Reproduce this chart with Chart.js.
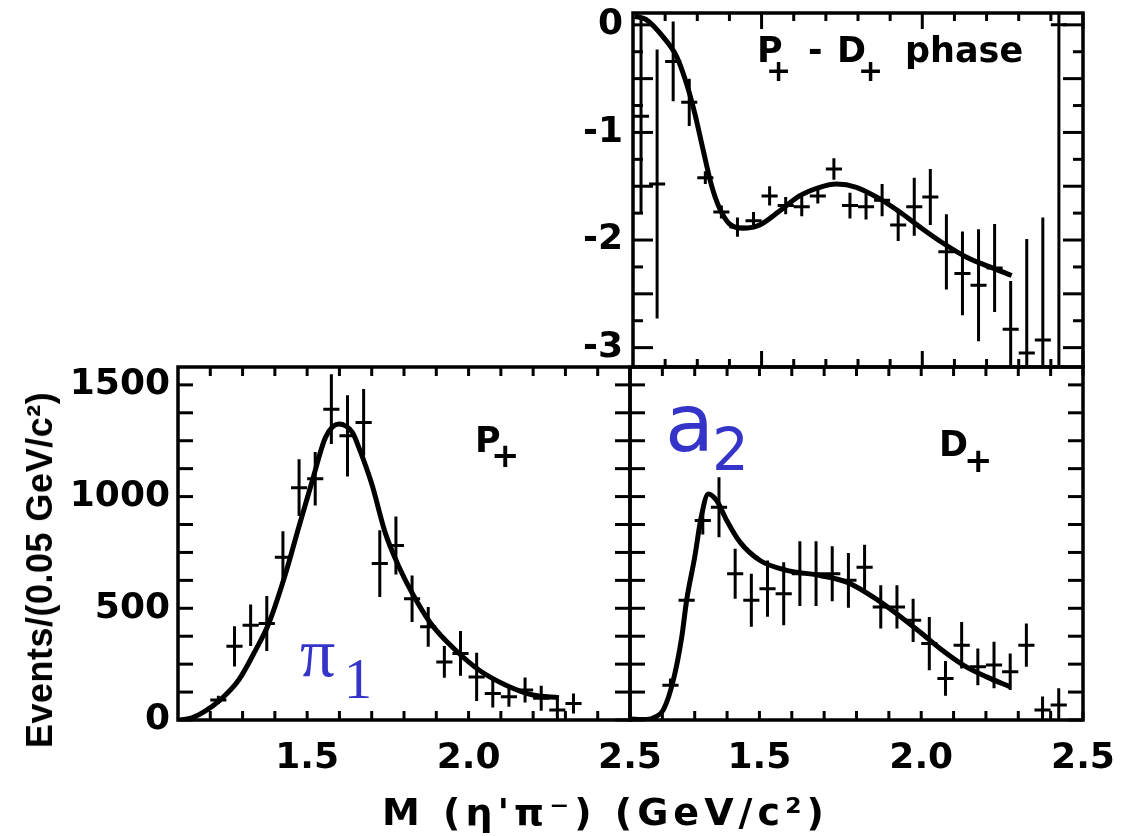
<!DOCTYPE html>
<html>
<head>
<meta charset="utf-8">
<script src="https://cdn.jsdelivr.net/npm/chart.js@4.4.1/dist/chart.umd.min.js"></script>
<style>
html,body{margin:0;padding:0;background:#fff;}
body{width:1126px;height:836px;position:relative;overflow:hidden;}
canvas{position:absolute;}
.t{position:absolute;white-space:nowrap;line-height:1;color:#000;font-family:'DejaVu Sans';font-weight:bold;}
.blue{color:#3434c8;font-weight:normal;}
</style>
</head>
<body>
<canvas id="cP" width="690" height="496" style="left:0;top:340px"></canvas>
<canvas id="cD" width="566" height="496" style="left:560px;top:340px"></canvas>
<canvas id="cPh" width="566" height="380" style="left:560px;top:0"></canvas>

<!-- panel labels -->
<div class="t" style="left:475px;top:423px;font-size:35px">P</div>
<div class="t" style="left:491px;top:438px;font-size:34px">+</div>
<div class="t" style="left:939px;top:427px;font-size:35px">D</div>
<div class="t" style="left:964px;top:443px;font-size:34px">+</div>
<div class="t" style="left:757px;top:33px;font-size:35px">P</div>
<div class="t" style="left:766px;top:56px;font-size:30px">+</div>
<div class="t" style="left:808px;top:33px;font-size:35px">-</div>
<div class="t" style="left:837px;top:33px;font-size:35px">D</div>
<div class="t" style="left:858px;top:56px;font-size:30px">+</div>
<div class="t" style="left:905px;top:33px;font-size:35px">phase</div>

<!-- annotations -->
<div class="t blue" style="left:300px;top:618px;font-size:70px;font-family:'Liberation Serif'">π</div>
<div class="t blue" style="left:344px;top:651px;font-size:56px;font-family:'Liberation Serif'">1</div>
<div class="t blue" style="left:665px;top:384px;font-size:80px;font-family:'DejaVu Sans'">a</div>
<div class="t blue" style="left:712px;top:421px;font-size:58px;font-family:'DejaVu Sans'">2</div>

<!-- axis titles -->
<div class="t" style="left:382px;top:793px;font-size:38px;letter-spacing:5px">M (η'π⁻) (GeV/c²)</div>
<div class="t" style="left:40px;top:570px;font-size:36px;font-family:'Liberation Sans';transform:translate(-50%,-50%) rotate(-90deg);letter-spacing:0.5px">Events/(0.05 GeV/c²)</div>

<script>
// ---------------- data ----------------
// P+ intensity (events per 0.05 GeV/c^2)
const pMass = [1.225,1.275,1.325,1.375,1.425,1.475,1.525,1.575,1.625,1.675,1.725,1.775,1.825,1.875,1.925,1.975,2.025,2.075,2.125,2.175,2.225,2.275,2.325];
const pEvents = [90,330,424,432,729,1040,1080,1391,1272,1332,700,781,543,417,260,298,193,119,104,134,97,45,74];
const pError = [18,90,93,123,116,127,120,156,182,149,149,130,104,89,71,100,108,63,45,56,56,48,45];
const pFitMass = [1.106,1.143,1.184,1.23,1.288,1.34,1.381,1.433,1.474,1.516,1.557,1.598,1.64,1.66,1.70,1.743,1.785,1.826,1.883,1.96,2.033,2.116,2.199,2.28];
const pFitEvents = [0,10,40,89,179,312,432,655,863,1071,1265,1325,1287,1220,1057,833,684,566,432,312,223,156,112,100];

// D+ intensity
const dMass = [1.225,1.275,1.325,1.375,1.425,1.475,1.525,1.575,1.625,1.675,1.725,1.775,1.825,1.875,1.925,1.975,2.025,2.075,2.125,2.175,2.225,2.275,2.325,2.375,2.425];
const dEvents = [156,536,893,952,655,536,588,565,655,655,655,625,684,506,506,446,342,186,335,238,246,216,335,45,67];
const dError = [30,30,63,134,112,119,126,141,145,145,123,123,100,97,97,97,119,78,104,82,104,82,97,60,75];
const dFitMass = [1.10,1.15,1.18,1.203,1.234,1.26,1.275,1.30,1.32,1.342,1.368,1.399,1.44,1.502,1.584,1.687,1.77,1.852,1.924,1.996,2.058,2.13,2.202,2.274];
const dFitEvents = [5,2,15,45,179,372,536,729,908,1012,982,893,796,714,670,647,617,550,476,394,320,246,193,149];

// P+ - D+ phase (rad)
const phMass = [1.125,1.175,1.225,1.275,1.325,1.375,1.425,1.475,1.525,1.575,1.625,1.675,1.725,1.775,1.825,1.875,1.925,1.975,2.025,2.075,2.125,2.175,2.225,2.275,2.325,2.375,2.425];
const phPhase = [-0.85,-1.48,-0.34,-0.72,-1.42,-1.74,-1.88,-1.82,-1.59,-1.68,-1.69,-1.59,-1.34,-1.68,-1.69,-1.63,-1.86,-1.69,-1.60,-2.11,-2.31,-2.42,-2.26,-2.83,-3.05,-2.93,0.0];
const phError = [0.9,1.25,0.37,0.22,0.06,0.06,0.09,0.08,0.09,0.08,0.09,0.07,0.1,0.12,0.12,0.15,0.15,0.27,0.26,0.35,0.39,0.52,0.41,0.45,1.06,1.14,3.4];
const phFitMass = [1.105,1.14,1.193,1.235,1.266,1.292,1.318,1.344,1.37,1.40,1.442,1.494,1.556,1.618,1.681,1.733,1.795,1.869,1.93,1.993,2.065,2.138,2.21,2.278];
const phFitPhase = [0.08,0.05,-0.11,-0.29,-0.54,-0.82,-1.16,-1.49,-1.71,-1.85,-1.89,-1.86,-1.73,-1.59,-1.51,-1.48,-1.51,-1.62,-1.74,-1.88,-2.03,-2.16,-2.25,-2.33];

// tick values / labels
const massTickValues = [1.5, 2.0, 2.5];
const massTickLabels = ['1.5', '2.0', '2.5'];
const massMinorTicks = [1.2,1.3,1.4,1.6,1.7,1.8,1.9,2.1,2.2,2.3,2.4];
const countTickValues = [0, 500, 1000, 1500];
const countTickLabels = ['0', '500', '1000', '1500'];
const countMinorTicks = [125,250,375,625,750,875,1125,1250,1375];
const phaseTickValues = [0, -1, -2, -3];
const phaseTickLabels = ['0', '-1', '-2', '-3'];
const phaseHalfTicks = [-0.5,-1.5,-2.5];
const phaseMinorTicks = [-0.25,-0.75,-1.25,-1.75,-2.25,-2.75];
const binHalfWidth = 0.025;

// ---------------- helpers ----------------
function verticalBars(xs, ys, es) {
  const out = [];
  xs.forEach((x, i) => { out.push({x, y: ys[i] - es[i]}, {x, y: ys[i] + es[i]}, {x, y: null}); });
  return out;
}
function horizontalBars(xs, ys) {
  const out = [];
  xs.forEach((x, i) => { out.push({x: x - binHalfWidth, y: ys[i]}, {x: x + binHalfWidth, y: ys[i]}, {x, y: null}); });
  return out;
}
function curve(xs, ys) { return xs.map((x, i) => ({x, y: ys[i]})); }

function datasets(xs, ys, es, fx, fy) {
  const seg = {showLine: true, pointRadius: 0, borderColor: '#000', borderWidth: 3, tension: 0, spanGaps: false, fill: false};
  return [
    Object.assign({data: verticalBars(xs, ys, es)}, seg),
    Object.assign({data: horizontalBars(xs, ys)}, seg),
    {data: curve(fx, fy), showLine: true, pointRadius: 0, borderColor: '#000', borderWidth: 5,
     cubicInterpolationMode: 'monotone', fill: false}
  ];
}

const frameTicks = {
  id: 'frameTicks',
  afterDraw(chart, args, o) {
    const {ctx, chartArea: {left, right, top, bottom}, scales: {x, y}} = chart;
    ctx.save();
    ctx.strokeStyle = '#000';
    ctx.lineCap = 'butt';
    ctx.lineWidth = 3;
    const seg = (x1, y1, x2, y2) => { ctx.beginPath(); ctx.moveTo(x1, y1); ctx.lineTo(x2, y2); ctx.stroke(); };
    (o.xTicks || []).forEach(([vals, len]) => vals.forEach(v => {
      const p = x.getPixelForValue(v);
      seg(p, bottom, p, bottom - len); seg(p, top, p, top + len);
    }));
    (o.yTicks || []).forEach(([vals, len]) => vals.forEach(v => {
      const p = y.getPixelForValue(v);
      seg(left, p, left + len, p); seg(right, p, right - len, p);
    }));
    ctx.lineWidth = 3.5;
    ctx.strokeRect(left, top, right - left, bottom - top);
    ctx.restore();
  }
};

Chart.defaults.font.family = 'DejaVu Sans';
Chart.defaults.font.weight = 'bold';
Chart.defaults.color = '#000';
Chart.defaults.animation = false;

function zeroPad(s) { s.paddingTop = 0; s.paddingBottom = 0; s.paddingLeft = 0; s.paddingRight = 0; }

function xScale(showLabels) {
  return {
    type: 'linear', min: 1.1, max: 2.5, display: showLabels,
    grid: {display: false, drawTicks: false}, border: {display: false},
    afterBuildTicks: s => { s.ticks = massTickValues.map(v => ({value: v})); },
    ticks: {autoSkip: false, maxRotation: 0, padding: 17, font: {size: 36, weight: 'bold'},
            callback: v => massTickLabels[massTickValues.indexOf(v)]},
    afterFit: s => { s.height = 60; zeroPad(s); }
  };
}

function baseOptions(padding, scales, ticksCfg) {
  return {
    responsive: false, animation: false, events: [],
    layout: {padding},
    plugins: {legend: {display: false}, tooltip: {enabled: false}, frameTicks: ticksCfg},
    scales
  };
}

// P+ panel
new Chart(document.getElementById('cP'), {
  type: 'scatter',
  data: {datasets: datasets(pMass, pEvents, pError, pFitMass, pFitEvents)},
  options: baseOptions({left: 0, right: 60, top: 27, bottom: 56}, {
    x: xScale(true),
    y: {
      type: 'linear', min: 0, max: 1580,
      grid: {display: false, drawTicks: false}, border: {display: false},
      afterBuildTicks: s => { s.ticks = countTickValues.map(v => ({value: v})); },
      ticks: {autoSkip: false, padding: 8, font: {size: 36, weight: 'bold'},
              callback: v => countTickLabels[countTickValues.indexOf(v)]},
      afterFit: s => { s.width = 178; zeroPad(s); }
    }
  }, {xTicks: [[massMinorTicks, 9], [massTickValues, 9]], yTicks: [[countMinorTicks, 15], [countTickValues, 15]]}),
  plugins: [frameTicks]
});

// D+ panel
new Chart(document.getElementById('cD'), {
  type: 'scatter',
  data: {datasets: datasets(dMass, dEvents, dError, dFitMass, dFitEvents)},
  options: baseOptions({left: 70, right: 43, top: 27, bottom: 56}, {
    x: xScale(true),
    y: {type: 'linear', min: 0, max: 1580, display: false}
  }, {xTicks: [[massMinorTicks, 9], [massTickValues, 9]], yTicks: [[countMinorTicks, 15], [countTickValues, 15]]}),
  plugins: [frameTicks]
});

// phase panel
new Chart(document.getElementById('cPh'), {
  type: 'scatter',
  data: {datasets: datasets(phMass, phPhase, phError, phFitMass, phFitPhase)},
  options: baseOptions({left: 0, right: 43, top: 13, bottom: 13}, {
    x: {type: 'linear', min: 1.1, max: 2.5, display: false},
    y: {
      type: 'linear', min: -3.18, max: 0.11,
      grid: {display: false, drawTicks: false}, border: {display: false},
      afterBuildTicks: s => { s.ticks = phaseTickValues.map(v => ({value: v})); },
      ticks: {autoSkip: false, padding: 10, font: {size: 36, weight: 'bold'},
              callback: v => phaseTickLabels[phaseTickValues.indexOf(v)]},
      afterFit: s => { s.width = 73; zeroPad(s); }
    }
  }, {xTicks: [[massMinorTicks, 8], [massTickValues, 16]], yTicks: [[phaseMinorTicks, 10], [phaseHalfTicks, 20], [phaseTickValues, 20]]}),
  plugins: [frameTicks]
});
</script>
</body>
</html>
